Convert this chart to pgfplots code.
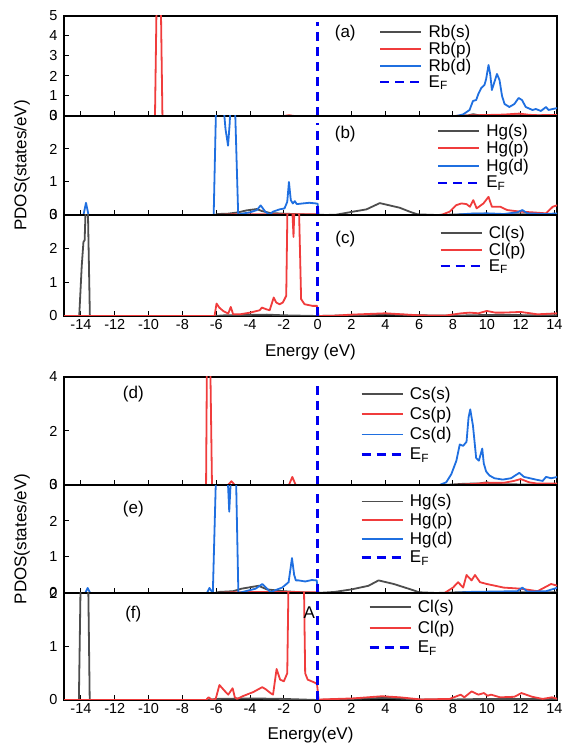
\documentclass[border=0pt]{standalone}
\usepackage{fontspec}
\setmainfont{Liberation Sans}
\usepackage{pgfplots}
\pgfplotsset{compat=1.18}
\definecolor{cgray}{RGB}{77,77,77}
\definecolor{cred}{RGB}{240,60,60}
\definecolor{cblue}{RGB}{31,111,224}
\definecolor{cef}{RGB}{0,0,240}
\tikzset{plab/.style={font=\fontsize{17}{17}\selectfont}}
\newcommand{\lt}[1]{\makebox[44pt][l]{#1}}
\pgfplotsset{
 pdos/.style={
   scale only axis, width=493pt, xmin=-15, xmax=14.15, ymin=0,
   xtick={-14,-12,...,14}, xtick pos=bottom, ytick pos=left, tick align=inside,
   major tick length=5pt, tick style={black, line width=1pt},
   axis line style={line width=1.1pt},
   /pgf/number format/assume math mode=true,
   ticklabel style={font=\fontsize{14.5}{14.5}\selectfont},
   yticklabel style={xshift=-3pt},
   label style={font=\fontsize{17}{17}\selectfont},
   legend cell align=left,
   legend image code/.code={\draw[mark repeat=2,mark phase=2,##1] plot coordinates {(0pt,0pt) (20.5pt,0pt) (41pt,0pt)};},
   legend style={draw=none, fill=none, font=\fontsize{17}{17}\selectfont, cells={anchor=west}, column sep=4pt},
   every axis plot/.append style={line width=1.8pt, line join=round, no markers},
 },
}
\tikzset{efline/.style={color=cef, line width=2.4pt, dash pattern=on 9pt off 6pt}}
\begin{document}
\begin{tikzpicture}
\path[use as bounding box] (0pt,0pt) rectangle (563pt,746pt);
% ---------------- (a)
\begin{axis}[pdos, at={(64pt,630pt)}, anchor=south west, height=100pt,
  ymax=5, ytick={0,1,2,3,4,5}, xticklabels={},
  legend style={at={(0.633,0.95)}, anchor=north west, row sep=-1pt}]
\addplot[color=cgray] coordinates {(-15,0) (8.5,0) (8.9,0.03) (9.2,0.09) (9.5,0.04) (10,0.02) (11,0.03) (12,0.04) (13,0.02) (14.2,0.02)};
\addlegendentry{\lt{Rb(s)}}
\addplot[color=cred] coordinates {(-15,0) (-9.62,0) (-9.52,6) (-9.28,6) (-9.18,0) (-2.0,0) (-1.7,0.04) (-1.4,0) (8,0) (9,0.03) (10,0.05) (11,0.07) (11.9,0.12) (12.5,0.06) (13,0.04) (14.2,0.05)};
\addlegendentry{\lt{Rb(p)}}
\addplot[color=cblue] coordinates {(-15,0) (8.2,0) (8.6,0.08) (8.98,0.3) (9.18,0.75) (9.37,0.8) (9.5,1.1) (9.67,1.4) (9.86,1.55) (9.96,1.85) (10.1,2.55) (10.2,2.1) (10.3,1.3) (10.45,1.7) (10.6,2.1) (10.75,1.8) (10.9,1.0) (11.05,0.6) (11.33,0.45) (11.63,0.6) (11.88,0.9) (12.08,0.8) (12.3,0.45) (12.7,0.3) (12.9,0.35) (13.2,0.25) (13.5,0.45) (13.65,0.3) (13.9,0.35) (14.2,0.4)};
\addlegendentry{\lt{Rb(d)}}
\addplot[efline] coordinates {(0,0) (0,4.7)};
\addlegendentry{\lt{E\textsubscript{F}}}
\node[plab] at (axis cs:1.63,4.16) {(a)};
\end{axis}
% ---------------- (b)
\begin{axis}[pdos, at={(64pt,531pt)}, anchor=south west, height=99pt,
  ymax=3, ytick={0,1,2,3}, xticklabels={},
  ylabel={PDOS(states/eV)}, ylabel style={at={(axis description cs:-0.085,0.5)}, anchor=center},
  legend style={at={(0.750,0.96)}, anchor=north west, row sep=-0.5pt}]
\addplot[color=cgray] coordinates {(-15,0) (-6.1,0) (-5.9,0.03) (-5.3,0.04) (-4.7,0.08) (-4.2,0.14) (-3.6,0.18) (-3.3,0.12) (-2.8,0.06) (-2,0.04) (-1,0.02) (0,0.01) (0.5,0) (1.1,0.01) (2.08,0.1) (2.88,0.17) (3.67,0.36) (4.85,0.22) (5.44,0.1) (5.9,0.02) (7,0) (8.5,0.02) (9.5,0.04) (10.5,0.02) (14.2,0.02)};
\addlegendentry{\lt{Hg(s)}}
\addplot[color=cred] coordinates {(-15,0) (-6,0) (-5,0.02) (-3,0.02) (0,0.02) (0.1,0) (7.3,0) (7.8,0.1) (8.2,0.3) (8.5,0.35) (8.8,0.33) (9.0,0.25) (9.2,0.45) (9.4,0.2) (9.8,0.35) (10.1,0.55) (10.3,0.25) (10.8,0.25) (11.2,0.15) (12.0,0.1) (12.7,0.08) (13.5,0.05) (13.9,0.25) (14.2,0.3)};
\addlegendentry{\lt{Hg(p)}}
\addplot[color=cblue] coordinates {(-15,0) (-13.85,0) (-13.7,0.37) (-13.55,0) (-6.15,0) (-6.0,3.5) (-5.6,3.5) (-5.45,2.6) (-5.3,2.1) (-5.2,2.8) (-5.15,3.5) (-4.9,3.5) (-4.7,0) (-4.5,0.04) (-4.0,0.08) (-3.6,0.15) (-3.37,0.29) (-3.1,0.1) (-2.84,0.01) (-2.65,0.1) (-2.25,0.17) (-1.96,0.2) (-1.8,0.4) (-1.7,1.0) (-1.59,0.45) (-1.47,0.35) (-1.35,0.42) (-1.24,0.33) (-0.88,0.35) (-0.5,0.37) (-0.1,0.35) (0,0.34) (0.05,0) (8,0) (9,0.04) (10,0.05) (11,0.03) (11.8,0.08) (12.1,0.15) (12.4,0.05) (13.5,0.03) (14.2,0.05)};
\addlegendentry{\lt{Hg(d)}}
\addplot[efline] coordinates {(0,0) (0,2.78)};
\addlegendentry{\lt{E\textsubscript{F}}}
\node[plab] at (axis cs:1.63,2.45) {(b)};
\end{axis}
% ---------------- (c)
\begin{axis}[pdos, at={(64pt,430pt)}, anchor=south west, height=101pt,
  ymax=3, ytick={0,1,2,3},
  xlabel={Energy (eV)}, xlabel style={at={(axis description cs:0.5,-0.36)}, anchor=center},
  legend style={at={(0.755,0.93)}, anchor=north west, row sep=-1.2pt}]
\addplot[color=cgray] coordinates {(-15,0) (-14.1,0) (-13.95,1.5) (-13.85,2.2) (-13.78,2.25) (-13.7,3.5) (-13.6,3.5) (-13.47,0) (-6.1,0) (-5.5,0.02) (-4.5,0.03) (-3,0.04) (-2,0.02) (0,0) (2,0.02) (4,0.05) (6,0.02) (8,0.01) (10,0.03) (14.2,0.02)};
\addlegendentry{\lt{Cl(s)}}
\addplot[color=cred] coordinates {(-15,0) (-6.1,0) (-5.98,0.37) (-5.82,0.25) (-5.59,0.15) (-5.29,0.07) (-5.14,0.27) (-5.0,0.05) (-4.6,0.05) (-4.0,0.1) (-3.43,0.17) (-3.3,0.25) (-3.04,0.2) (-2.84,0.17) (-2.6,0.55) (-2.45,0.4) (-2.25,0.35) (-2.06,0.4) (-1.86,0.6) (-1.78,3.5) (-1.53,3.5) (-1.43,2.35) (-1.36,3.5) (-1.12,3.5) (-0.98,0.5) (-0.78,0.35) (-0.3,0.3) (-0.04,0.3) (0.05,0) (1,0.01) (2,0.04) (4,0.08) (5,0.05) (6,0.02) (7.5,0.01) (8.5,0.08) (9,0.1) (9.5,0.08) (10,0.15) (10.5,0.1) (11,0.1) (12,0.12) (13,0.05) (14.2,0.08)};
\addlegendentry{\lt{Cl(p)}}
\addplot[efline] coordinates {(0,0) (0,2.8)};
\addlegendentry{\lt{E\textsubscript{F}}}
\node[plab] at (axis cs:1.63,2.27) {(c)};
\end{axis}
% ---------------- (d)
\begin{axis}[pdos, at={(64pt,261pt)}, anchor=south west, height=108pt,
  ymax=4, ytick={0,2,4}, xticklabels={},
  legend style={at={(0.595,0.947)}, anchor=north west, row sep=2.5pt}]
\addplot[color=cgray] coordinates {(-15,0) (7.5,0) (8.5,0.04) (9,0.05) (9.5,0.05) (10,0.1) (10.3,0.04) (11,0.03) (12,0.02) (14.2,0.02)};
\addlegendentry{\lt{Cs(s)}}
\addplot[color=cred] coordinates {(-15,0) (-6.6,0) (-6.55,4.5) (-6.35,4.5) (-6.25,0) (-5.3,0) (-5.1,0.14) (-4.9,0) (-1.7,0) (-1.5,0.3) (-1.3,0) (8,0) (9,0.03) (10,0.08) (11,0.08) (11.6,0.15) (12.0,0.22) (12.5,0.1) (13,0.05) (14.2,0.05)};
\addlegendentry{\lt{Cs(p)}}
\addplot[color=cblue] coordinates {(-15,0) (7.2,0) (7.6,0.1) (7.9,0.4) (8.2,0.9) (8.4,1.5) (8.6,1.45) (8.8,1.6) (8.92,2.5) (9.02,2.8) (9.18,2.2) (9.37,1.0) (9.53,0.9) (9.73,1.35) (9.82,0.8) (9.96,0.5) (10.16,0.35) (10.45,0.25) (10.94,0.2) (11.43,0.25) (11.92,0.45) (12.2,0.3) (12.9,0.2) (13.3,0.15) (13.5,0.3) (13.8,0.25) (14.2,0.3)};
\addlegendentry{\lt{Cs(d)}}
\addplot[efline] coordinates {(0,0) (0,3.65)};
\addlegendentry{\lt{E\textsubscript{F}}}
\node[plab] at (axis cs:-10.9,3.37) {(d)};
\end{axis}
% ---------------- (e)
\begin{axis}[pdos, at={(64pt,153pt)}, anchor=south west, height=108pt,
  ymax=3, ytick={0,1,2,3}, xticklabels={},
  ylabel={PDOS(states/eV)}, ylabel style={at={(axis description cs:-0.085,0.5)}, anchor=center},
  legend style={at={(0.595,0.95)}, anchor=north west, row sep=1pt}]
\addplot[color=cgray] coordinates {(-15,0) (-6.1,0) (-5.8,0.03) (-5,0.05) (-4.5,0.12) (-3.5,0.2) (-3,0.1) (-2,0.05) (-1,0.02) (0,0) (1,0.03) (2,0.1) (3,0.2) (3.6,0.35) (4.5,0.25) (5.5,0.1) (6,0.02) (7,0) (9,0.03) (10,0.02) (14.2,0.02)};
\addlegendentry{\lt{Hg(s)}}
\addplot[color=cred] coordinates {(-15,0) (-6,0) (-5,0.02) (-3,0.03) (0,0.02) (0.1,0) (7.5,0) (8.0,0.15) (8.3,0.3) (8.6,0.15) (8.8,0.5) (9.1,0.35) (9.3,0.5) (9.6,0.3) (10,0.25) (11,0.15) (12,0.12) (13,0.05) (13.8,0.25) (14.2,0.2)};
\addlegendentry{\lt{Hg(p)}}
\addplot[color=cblue] coordinates {(-15,0) (-13.75,0) (-13.6,0.14) (-13.45,0) (-6.55,0) (-6.4,0.14) (-6.2,0) (-6.0,3.5) (-5.35,3.5) (-5.23,2.26) (-5.1,3.5) (-4.84,3.5) (-4.69,0) (-4.26,0.05) (-3.67,0.12) (-3.28,0.25) (-2.99,0.12) (-2.79,0.02) (-2.5,0.08) (-2.1,0.15) (-1.72,0.3) (-1.52,0.97) (-1.39,0.5) (-1.29,0.35) (-1.13,0.35) (-0.74,0.32) (-0.35,0.36) (-0.06,0.35) (0.04,0) (8,0) (9,0.03) (11.8,0.05) (12.1,0.15) (12.4,0.04) (13.5,0.05) (14.2,0.15)};
\addlegendentry{\lt{Hg(d)}}
\addplot[efline] coordinates {(0,0) (0,2.75)};
\addlegendentry{\lt{E\textsubscript{F}}}
\node[plab] at (axis cs:-10.9,2.33) {(e)};
\end{axis}
% ---------------- (f)
\begin{axis}[pdos, at={(64pt,46pt)}, anchor=south west, height=107pt,
  ymax=2, ytick={0,1,2},
  xlabel={Energy(eV)}, xlabel style={at={(axis description cs:0.5,-0.33)}, anchor=center},
  legend style={at={(0.611,0.97)}, anchor=north west, row sep=2.5pt}]
\addplot[color=cgray] coordinates {(-15,0) (-14.12,0) (-13.98,3) (-13.6,3) (-13.48,0) (-6.5,0) (-6,0.02) (-4,0.03) (-2,0.02) (0,0) (2,0.02) (4,0.04) (6,0.01) (8,0.01) (10,0.02) (14.2,0.02)};
\addlegendentry{\lt{Cl(s)}}
\addplot[color=cred] coordinates {(-15,0) (-6.6,0) (-6.45,0.05) (-6.24,0) (-6.03,0.02) (-5.81,0.28) (-5.5,0.17) (-5.29,0.1) (-5.03,0.22) (-4.9,0.05) (-4.76,0.02) (-4.44,0.07) (-3.8,0.15) (-3.28,0.24) (-3.07,0.2) (-2.75,0.12) (-2.64,0.1) (-2.43,0.58) (-2.22,0.38) (-2.0,0.35) (-1.8,0.5) (-1.69,3) (-0.85,3) (-0.74,0.5) (-0.59,0.38) (-0.21,0.33) (-0.04,0.3) (0.06,0) (0.2,0.01) (2.1,0.03) (3.8,0.07) (4.86,0.05) (6.1,0.01) (7.8,0.02) (8.46,0.1) (8.67,0.05) (9.1,0.16) (9.5,0.1) (9.83,0.13) (10.04,0.08) (10.25,0.1) (10.78,0.05) (11.63,0.06) (12.05,0.13) (12.68,0.06) (13.3,0.02) (13.85,0.05) (14.2,0.02)};
\addlegendentry{\lt{Cl(p)}}
\addplot[efline] coordinates {(0,0) (0,1.85)};
\addlegendentry{\lt{E\textsubscript{F}}}
\node[plab] at (axis cs:-10.9,1.6) {(f)};
\node[plab] at (axis cs:-0.49,1.63) {A};
\end{axis}
\end{tikzpicture}
\end{document}
